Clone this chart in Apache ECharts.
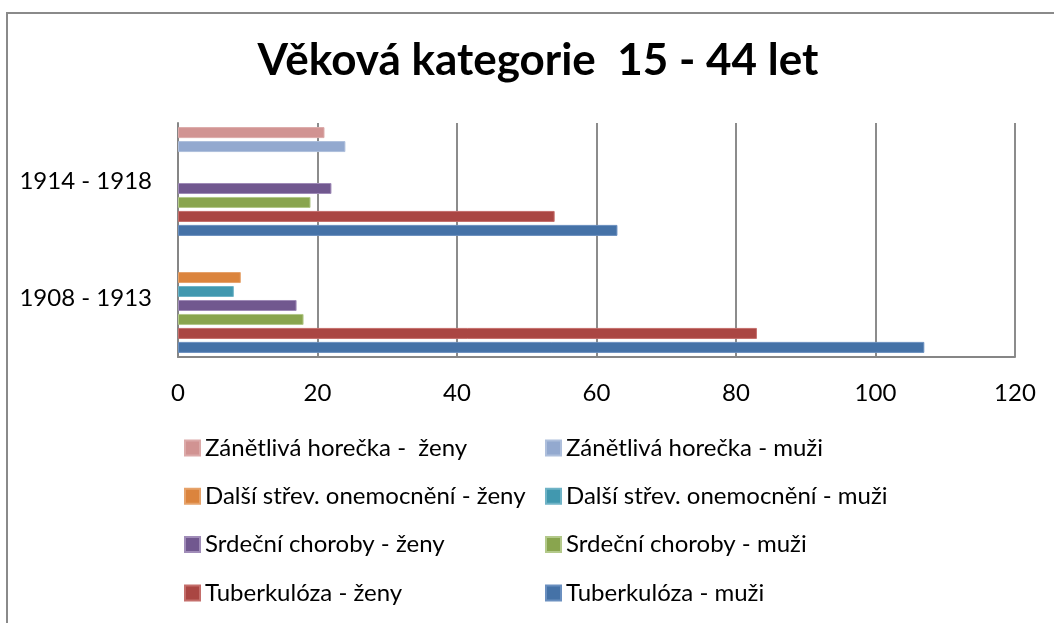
<!DOCTYPE html>
<html>
<head>
<meta charset="utf-8">
<script src="https://cdn.jsdelivr.net/npm/echarts@6/dist/echarts.min.js"></script>
<style>
  html, body { margin: 0; padding: 0; background: #fff; }
  #chart { width: 1054px; height: 623px; }
</style>
</head>
<body>
<div id="chart"></div>
<script>
// období (kategorie osy)
const periods = ['1908 - 1913', '1914 - 1918']
// hodnoty podle řad, [1908-1913, 1914-1918]
const tuberkulozaMuzi = [107, 63]
const tuberkulozaZeny = [83, 54]
const srdecniMuzi = [18, 19]
const srdecniZeny = [17, 22]
const strevniMuzi = [8, null]
const strevniZeny = [9, null]
const horeckaMuzi = [null, 24]
const horeckaZeny = [null, 21]
const xTicks = [0, 20, 40, 60, 80, 100, 120]

// pořadí shora dolů v rámci období
const seriesDefs = [
  { name: 'Zánětlivá horečka - ženy', data: horeckaZeny, color: '#D19392', border: '#dcaaa9' },
  { name: 'Zánětlivá horečka - muži', data: horeckaMuzi, color: '#93A9CF', border: '#aebfdc' },
  { name: 'Další střev. onemocnění - ženy', data: strevniZeny, color: '#DB843D', border: '#e6a26a' },
  { name: 'Další střev. onemocnění - muži', data: strevniMuzi, color: '#4198AF', border: '#6fb3c6' },
  { name: 'Srdeční choroby - ženy', data: srdecniZeny, color: '#71588F', border: '#a08cb8' },
  { name: 'Srdeční choroby - muži', data: srdecniMuzi, color: '#89A54E', border: '#b3c98a' },
  { name: 'Tuberkulóza - ženy', data: tuberkulozaZeny, color: '#AA4643', border: '#c46e6b' },
  { name: 'Tuberkulóza - muži', data: tuberkulozaMuzi, color: '#4572A7', border: '#6a8fbf' }
]

const font = 'Lato, "Noto Sans", sans-serif'
const chart = echarts.init(document.getElementById('chart'))

const legendText = { fontFamily: font, fontSize: 24, color: '#000', lineHeight: 24 }

const option = {
  animation: false,
  graphic: [{
    type: 'rect',
    shape: { x: 7, y: 13, width: 1100, height: 700 },
    style: { fill: 'none', stroke: '#8a8a8a', lineWidth: 2 }
  }],
  title: {
    text: 'Věková kategorie  15 - 44 let',
    left: 538,
    textAlign: 'center',
    top: 39,
    padding: 0,
    textStyle: { fontFamily: font, fontSize: 44, fontWeight: 'bold', color: '#000' }
  },
  legend: [
    {
      orient: 'vertical',
      left: 184,
      top: 436,
      padding: 0,
      itemWidth: 15,
      itemHeight: 15,
      itemGap: 24.3,
      icon: 'rect',
      textStyle: legendText,
      data: ['Zánětlivá horečka - ženy', 'Další střev. onemocnění - ženy', 'Srdeční choroby - ženy', 'Tuberkulóza - ženy'],
      formatter: n => n === 'Zánětlivá horečka - ženy' ? 'Zánětlivá horečka -  ženy' : n
    },
    {
      orient: 'vertical',
      left: 545,
      top: 436,
      padding: 0,
      itemWidth: 15,
      itemHeight: 15,
      itemGap: 24.3,
      icon: 'rect',
      textStyle: legendText,
      data: ['Zánětlivá horečka - muži', 'Další střev. onemocnění - muži', 'Srdeční choroby - muži', 'Tuberkulóza - muži']
    }
  ],
  grid: { left: 178, right: 39, top: 123, bottom: 266, containLabel: false },
  xAxis: {
    type: 'value',
    min: xTicks[0],
    max: xTicks[xTicks.length - 1],
    interval: 20,
    axisLine: { show: true, lineStyle: { color: '#868686', width: 2 } },
    axisTick: { show: false },
    splitLine: { show: true, lineStyle: { color: '#8c8c8c', width: 2 } },
    axisLabel: { margin: 24, fontFamily: font, fontSize: 24, color: '#000' }
  },
  yAxis: {
    type: 'category',
    data: periods,
    axisLine: { show: true, lineStyle: { color: '#868686', width: 2 } },
    axisTick: { show: false },
    axisLabel: { margin: 26, fontFamily: font, fontSize: 24, color: '#000' }
  },
  series: seriesDefs.map(s => ({
    name: s.name,
    type: 'bar',
    data: s.data,
    barWidth: 11,
    barGap: '27%',
    itemStyle: { color: s.color, borderColor: s.border, borderWidth: 1 }
  }))
}

chart.setOption(option)
</script>
</body>
</html>
